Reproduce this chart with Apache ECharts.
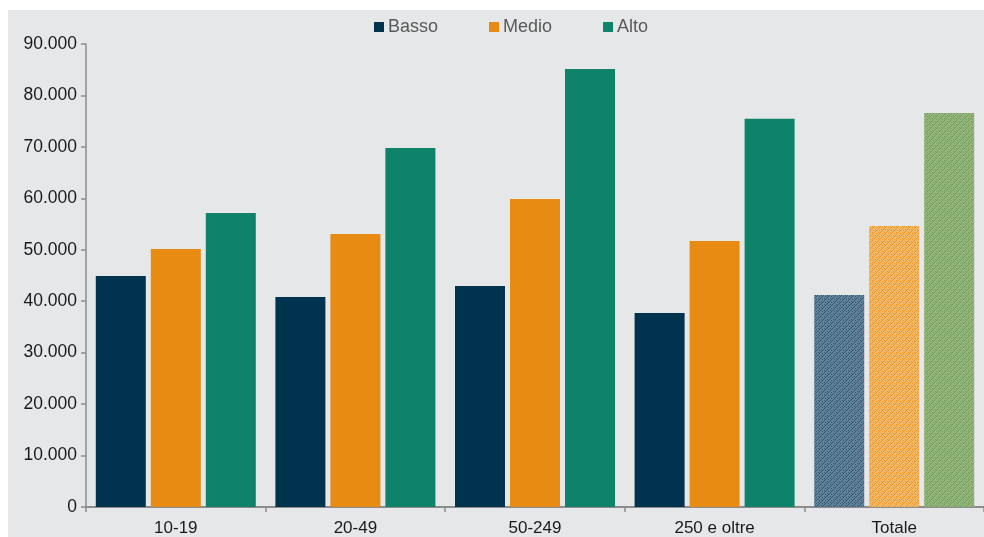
<!DOCTYPE html>
<html>
<head>
<meta charset="utf-8">
<script src="https://cdn.jsdelivr.net/npm/echarts@6/dist/echarts.min.js"></script>
<style>
  html, body { margin: 0; padding: 0; background: #ffffff; }
  #chart { position: absolute; left: 8px; top: 10px; width: 976px; height: 527px; background: #e6e7e9; }
</style>
</head>
<body>
<div id="chart"></div>
<script>
// Categories (company size by employees) and wage values per skill level
const categories = ['10-19', '20-49', '50-249', '250 e oltre', 'Totale'];
const basso = [44900, 40800, 42950, 37700, 41200];
const medio = [50150, 53050, 59850, 51700, 54600];
const alto  = [57150, 69800, 85150, 75450, 76600];
const yTicks = [0, 10000, 20000, 30000, 40000, 50000, 60000, 70000, 80000, 90000];

const colors = { basso: '#00334e', medio: '#e88b12', alto: '#0e836a' };

// Small woven tile used to fill the "Totale" bars
function weave(base, dark) {
  const c = document.createElement('canvas');
  c.width = 6; c.height = 6;
  const g = c.getContext('2d');
  g.fillStyle = base; g.fillRect(0, 0, 6, 6);
  g.fillStyle = dark;
  const px = [[0,0],[1,1],[0,2],[3,3],[4,4],[3,5],[2,0],[5,3],[1,4],[4,1]];
  px.forEach(p => g.fillRect(p[0], p[1], 1, 1));
  return { image: c, repeat: 'repeat' };
}
const totFill = {
  basso: weave('#62849a', '#34566c'),
  medio: weave('#f2b96c', '#e8961f'),
  alto:  weave('#95b67a', '#729c5c')
};

function seriesData(vals, key) {
  return vals.map((v, i) => i === categories.length - 1
    ? { value: v, itemStyle: { color: totFill[key] } }
    : v);
}

const fmt = v => String(v).replace(/\B(?=(\d{3})+(?!\d))/g, '.');

const chart = echarts.init(document.getElementById('chart'));
chart.setOption({
  animation: false,
  textStyle: { fontFamily: 'Liberation Sans, Arial, sans-serif' },
  legend: {
    top: 3, left: 361,
    itemWidth: 10, itemHeight: 10, itemGap: 51,
    icon: 'rect',
    textStyle: { fontSize: 18, color: '#595959', padding: [0, 0, 0, -1] },
    data: ['Basso', 'Medio', 'Alto']
  },
  grid: { left: 78, right: 0, top: 34, bottom: 30, containLabel: false },
  xAxis: {
    type: 'category',
    data: categories,
    axisLine: { lineStyle: { color: '#8c8c8c', width: 2 } },
    axisTick: { show: true, length: 5, lineStyle: { color: '#8c8c8c', width: 1.5 } },
    axisLabel: { fontSize: 17, color: '#1a1a1a', margin: 13 }
  },
  yAxis: {
    type: 'value',
    min: yTicks[0], max: yTicks[yTicks.length - 1], interval: 10000,
    splitLine: { show: false },
    axisLine: { show: true, lineStyle: { color: '#8c8c8c', width: 1.5 } },
    axisTick: { show: true, length: 5, lineStyle: { color: '#8c8c8c', width: 1.5 } },
    axisLabel: { fontSize: 17.5, color: '#1a1a1a', margin: 9, formatter: fmt }
  },
  series: [
    { name: 'Basso', type: 'bar', barWidth: 50, barGap: '10%', itemStyle: { color: colors.basso }, data: seriesData(basso, 'basso') },
    { name: 'Medio', type: 'bar', barWidth: 50, barGap: '10%', itemStyle: { color: colors.medio }, data: seriesData(medio, 'medio') },
    { name: 'Alto',  type: 'bar', barWidth: 50, barGap: '10%', itemStyle: { color: colors.alto },  data: seriesData(alto, 'alto') }
  ]
});
</script>
</body>
</html>
